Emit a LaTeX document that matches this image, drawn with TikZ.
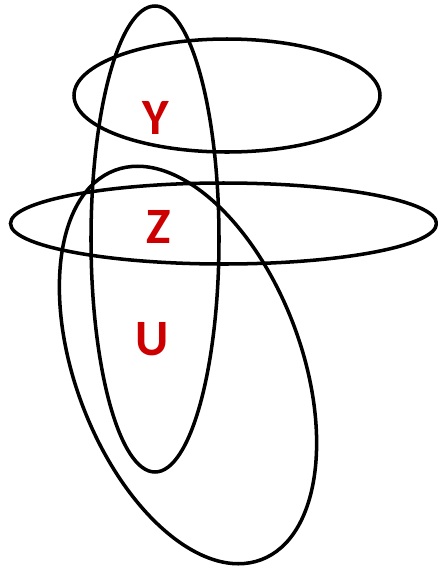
\documentclass[tikz,border=0pt]{standalone}
\usepackage{fontspec}
\setmainfont{Carlito}
\usepackage{tikz}
\definecolor{setred}{HTML}{CC0000}
\tikzset{setname/.style={text=setred, inner sep=0pt, font=\fontsize{29}{29}\selectfont\bfseries}}

\begin{document}
\begin{tikzpicture}[x=0.02cm, y=0.02cm, line width=2pt]
    \useasboundingbox (0,0) rectangle (438,-572);
    %the sets
    \draw (155,-239) ellipse [x radius=64, y radius=233]; %tall one
    \draw (227,-95.5) ellipse [x radius=153, y radius=56.5];
    \draw (223.5,-223.5) ellipse [x radius=213, y radius=40.5];
    \draw[rotate around={-69.4:(188,-365)}] (188,-365) ellipse [x radius=208, y radius=113]; %tilted one
    %the labels
    \path (155.5,-118) node[setname] (y) {Y}
        (158.5,-227) node[setname] (z) {Z}
        (152,-339) node[setname] (u) {U};
\end{tikzpicture}
\end{document}
